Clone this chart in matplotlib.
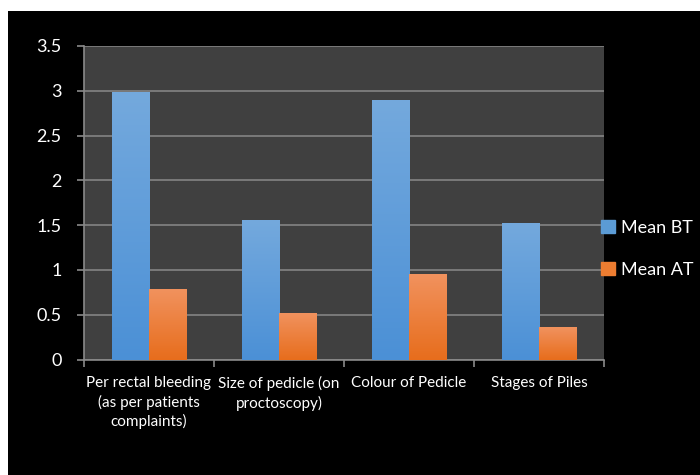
import numpy as np
import matplotlib
matplotlib.use("Agg")
import matplotlib.pyplot as plt
from matplotlib.colors import LinearSegmentedColormap
from matplotlib.patches import Rectangle

# values
categories = ["Per rectal bleeding\n(as per patients\ncomplaints)",
              "Size of pedicle (on\nproctoscopy)",
              "Colour of Pedicle",
              "Stages of Piles"]
mean_bt = [2.98, 1.56, 2.90, 1.52]
mean_at = [0.79, 0.52, 0.95, 0.36]
series_names = ["Mean BT", "Mean AT"]
yticks = [0, 0.5, 1, 1.5, 2, 2.5, 3, 3.5]
ytick_labels = ["0", "0.5", "1", "1.5", "2", "2.5", "3", "3.5"]

plt.rcParams['font.family'] = ['Lato', 'DejaVu Sans']


def fill_gradient(ax, bars, top, bottom):
    # Office-style vertical gradient inside each bar
    cmap = LinearSegmentedColormap.from_list("g", [bottom, top])
    grad = np.linspace(0, 1, 256).reshape(-1, 1)
    for b in bars:
        x, w, h = b.get_x(), b.get_width(), b.get_height()
        ax.imshow(grad, cmap=cmap, origin="lower", aspect="auto",
                  extent=[x, x + w, 0, h], zorder=3, interpolation="bicubic")
        b.set_alpha(0)


def main():
    fig = plt.figure(figsize=(7, 4.75), dpi=100, facecolor="white")
    # black slide area (white strip on top and left in the original)
    fig.patches.append(Rectangle((8 / 700, 0), 1, 1 - 11 / 475,
                                 transform=fig.transFigure,
                                 facecolor="black", edgecolor="none", zorder=-10))

    ax = fig.add_axes([84 / 700, 1 - 359.6 / 475, 520 / 700, 313.6 / 475])
    ax.set_facecolor("#404040")

    x = np.arange(len(categories))
    w = 0.286
    b1 = ax.bar(x - w / 2, mean_bt, w, color="#5b9bd5", label=series_names[0], zorder=3)
    b2 = ax.bar(x + w / 2, mean_at, w, color="#ed7d31", label=series_names[1], zorder=3)
    fill_gradient(ax, b1, "#74a9dd", "#4b90d6")
    fill_gradient(ax, b2, "#f1925e", "#e76d1c")

    ax.set_xlim(-0.5, len(categories) - 0.5)
    ax.set_ylim(0, 3.5)
    ax.set_yticks(yticks)
    ax.set_yticklabels(ytick_labels)
    ax.yaxis.grid(True, color="#7a7a7a", linewidth=1.4, zorder=1)
    ax.set_axisbelow(True)

    ax.set_xticks(x)
    ax.set_xticklabels(categories, fontsize=11, color="white", linespacing=1.35)
    ax.set_xticks(np.arange(len(categories) + 1) - 0.5, minor=True)
    ax.tick_params(axis="x", which="major", length=0, pad=12)
    ax.tick_params(axis="x", which="minor", length=5, color="#8a8a8a", width=1.2)
    ax.tick_params(axis="y", length=5, color="#8a8a8a", width=1.2,
                   labelsize=13, labelcolor="white", pad=11)

    for side in ["top", "right"]:
        ax.spines[side].set_visible(False)
    for side in ["left", "bottom"]:
        ax.spines[side].set_color("#8a8a8a")
        ax.spines[side].set_linewidth(1.2)

    handles = [Rectangle((0, 0), 1, 1, color="#5b9bd5"),
               Rectangle((0, 0), 1, 1, color="#ed7d31")]
    leg = ax.legend(handles, series_names, loc="center left",
                    bbox_to_anchor=(0.995, 0.353), frameon=False,
                    fontsize=13, handlelength=0.75, handleheight=0.75,
                    handletextpad=0.35, labelspacing=1.45, borderaxespad=0.0,
                    borderpad=0.0)
    for t in leg.get_texts():
        t.set_color("white")

    fig.savefig("out.png", dpi=100, facecolor=fig.get_facecolor())


if __name__ == "__main__":
    main()
